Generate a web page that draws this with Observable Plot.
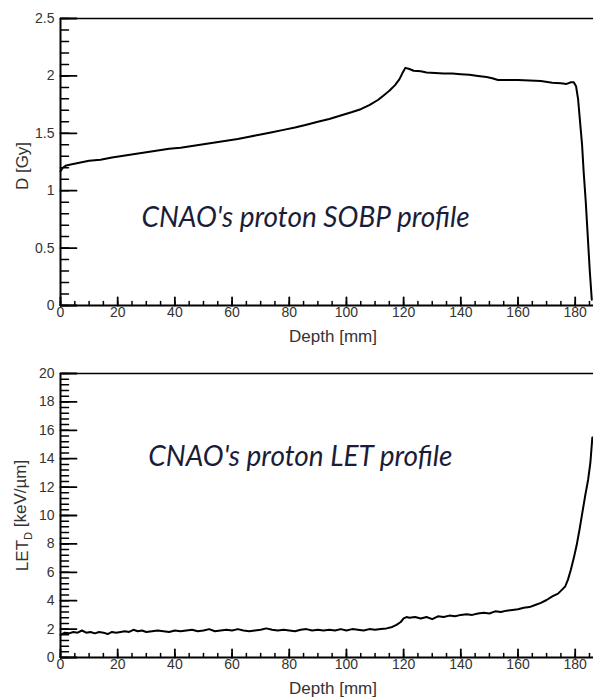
<!DOCTYPE html>
<html><head><meta charset="utf-8">
<script src="https://cdn.jsdelivr.net/npm/d3@7"></script>
<script src="https://cdn.jsdelivr.net/npm/@observablehq/plot@0.6"></script>
<style>
body{margin:0;background:#fff;}
#c{width:593px;}
#c svg{display:block;overflow:visible;}
</style></head><body><div id="c"></div>
<script>
// ---- Data ----
const sobpDepth = [0,0.8,2,4,7,10,14,18,22,26,30,34,38,42,46,50,54,58,62,66,70,74,78,82,86,90,94,98,102,105,108,111,113,115,117,118.5,119.5,120.6,122,123.5,126,128,131,134,137,140,143,146,149,151,153,156,160,164,168,172,175,177,178.5,179.5,180.3,181,181.7,182.4,183,183.7,184.4,185.1,185.8];
const sobpDose  = [1.17,1.2,1.22,1.23,1.245,1.26,1.27,1.29,1.305,1.32,1.335,1.35,1.365,1.375,1.39,1.405,1.42,1.435,1.45,1.47,1.49,1.51,1.53,1.55,1.575,1.6,1.625,1.655,1.685,1.71,1.745,1.79,1.83,1.87,1.92,1.97,2.02,2.07,2.06,2.045,2.04,2.03,2.025,2.02,2.02,2.015,2.01,2.0,1.99,1.98,1.965,1.965,1.965,1.96,1.955,1.94,1.935,1.93,1.945,1.945,1.91,1.8,1.6,1.4,1.15,0.9,0.6,0.3,0.05];

const letDepth = [0,1.5,3,4.5,6,7.5,9,10.5,12,13.5,15,16.5,18,19.5,21,22.5,24,25.5,27,28.5,30,32,34,36,38,40,42,44,46,48,50,52,54,56,58,60,62,64,66,68,70,72,74,76,78,80,82,84,86,88,90,92,94,96,98,100,102,104,106,108,110,112,114,116,117.5,119,120,121,122,124,126,128,130,132,134,136,138,140,142,144,146,148,150,152,154,156,158,160,162,164,166,168,170,172,174,175.5,176.5,177.5,178.5,179.5,180.5,181.5,182.5,183.5,184.5,185.3,186];
const letValue = [1.6,1.75,1.7,1.8,1.75,1.9,1.75,1.8,1.7,1.8,1.75,1.65,1.8,1.75,1.8,1.85,1.8,1.95,1.85,1.9,1.8,1.85,1.9,1.85,1.8,1.9,1.85,1.9,1.95,1.85,1.9,2.0,1.85,1.9,1.95,1.9,2.0,1.9,1.85,1.9,1.95,2.05,1.95,1.9,1.95,1.9,1.85,1.95,2.0,1.9,1.95,1.9,1.95,1.9,2.0,1.9,2.0,1.95,1.9,2.0,1.95,2.0,2.05,2.15,2.3,2.5,2.75,2.85,2.8,2.85,2.75,2.85,2.7,2.9,2.85,2.95,2.9,3.0,3.05,3.0,3.1,3.15,3.1,3.25,3.2,3.3,3.35,3.4,3.5,3.55,3.7,3.85,4.05,4.3,4.5,4.8,5.0,5.5,6.2,7.0,7.9,9.0,10.2,11.4,12.5,13.7,15.5];

const depthTicks = [0,20,40,60,80,100,120,140,160,180];
const depthTickLabels = ["0","20","40","60","80","100","120","140","160","180"];
const depthMinor = d3.range(0, 186, 5);
const doseTicks = [0,0.5,1,1.5,2,2.5];
const doseTickLabels = ["0","0.5","1","1.5","2","2.5"];
const doseMinor = d3.range(0, 2.501, 0.1);
const letTicks = [0,2,4,6,8,10,12,14,16,18,20];
const letTickLabels = ["0","2","4","6","8","10","12","14","16","18","20"];
const letMinor = d3.range(0, 20.01, 0.4);

const xLabel = "Depth [mm]";
const doseLabel = "D [Gy]";
const letLabel = "LET_D [keV/µm]";
const sobpNote = "CNAO's proton SOBP profile";
const letNote = "CNAO's proton LET profile";

const sobp = sobpDepth.map((d,i)=>({depth:d, dose:sobpDose[i]}));
const letData = letDepth.map((d,i)=>({depth:d, let:letValue[i]}));

const tickUp = {draw(ctx, l){ ctx.moveTo(0,0); ctx.lineTo(0,-l); }};
const fontBase = "'Liberation Sans', Arial, sans-serif";
const noteFont = "Lato, 'Open Sans', sans-serif";

function panel({height, marginTop, marginBottom, yMax, yTicks, yTickLabels, yMinor, data, yKey, yLabel, yLabelDy, note, noteX, noteY}) {
  return Plot.plot({
    width: 593, height, marginTop, marginBottom, marginLeft: 60, marginRight: 0,
    style: {fontFamily: fontBase, fontSize: "14px", color: "#333", background: "#fff", overflow: "visible"},
    x: {domain: [0, 186.4], axis: null},
    y: {domain: [0, yMax], axis: null},
    marks: [
      Plot.ruleY([yMax], {stroke: "#000", strokeWidth: 1.6}),
      Plot.ruleY([0], {stroke: "#000", strokeWidth: 2}),
      Plot.ruleX([0], {stroke: "#000", strokeWidth: 2}),
      Plot.vector(yMinor, {x: () => 0, y: d => d, length: 8, rotate: 90, anchor: "start", shape: tickUp, stroke: "#000", strokeWidth: 1.5}),
      Plot.vector(yTicks, {x: () => 0, y: d => d, length: 16, rotate: 90, anchor: "start", shape: tickUp, stroke: "#000", strokeWidth: 1.8}),
      Plot.vector(depthMinor, {x: d => d, y: () => 0, length: 4, rotate: 0, anchor: "start", shape: tickUp, stroke: "#000", strokeWidth: 1.5}),
      Plot.vector(depthTicks, {x: d => d, y: () => 0, length: 8, rotate: 0, anchor: "start", shape: tickUp, stroke: "#000", strokeWidth: 1.8}),
      Plot.axisY(yTicks, {tickSize: 0, tickPadding: 6, tickFormat: d => yTickLabels[yTicks.indexOf(d)], label: null, fontSize: 14, fill: "#333"}),
      Plot.axisX(depthTicks, {tickSize: 0, tickPadding: 2, tickFormat: d => depthTickLabels[depthTicks.indexOf(d)], label: null, fontSize: 14, fill: "#333"}),
      Plot.text([xLabel], {frameAnchor: "bottom", textAnchor: "middle", dx: 6, dy: 36, fontSize: 17, fill: "#333"}),
      Plot.text([yLabel], {frameAnchor: "left", textAnchor: "middle", dx: -38, dy: yLabelDy, rotate: -90, fontSize: 17, fill: "#333", className: "ylab"}),
      Plot.line(data, {x: "depth", y: yKey, stroke: "#000", strokeWidth: 2, clip: false}),
      Plot.text([note], {x: () => noteX, y: () => noteY, fontSize: 28, fontStyle: "italic", fill: "#1b1d38", fontFamily: noteFont})
    ]
  });
}

const topPanel = panel({height: 350, marginTop: 18, marginBottom: 45, yMax: 2.5, yTicks: doseTicks, yTickLabels: doseTickLabels, yMinor: doseMinor, data: sobp, yKey: "dose", yLabel: doseLabel, yLabelDy: 4, note: sobpNote, noteX: 85.7, noteY: 0.76});
const bottomPanel = panel({height: 349, marginTop: 23, marginBottom: 42, yMax: 20, yTicks: letTicks, yTickLabels: letTickLabels, yMinor: letMinor, data: letData, yKey: "let", yLabel: letLabel, yLabelDy: 0, note: letNote, noteX: 83.9, noteY: 14.15});

const c = document.getElementById("c");
c.appendChild(topPanel);
c.appendChild(bottomPanel);

// subscript for LET_D
d3.select(bottomPanel).selectAll(".ylab text").each(function(){
  const t = d3.select(this);
  t.text("");
  t.append("tspan").text("LET");
  t.append("tspan").attr("font-size", 11).attr("dy", "0.35em").text("D");
  t.append("tspan").attr("dy", "-0.35em").text(" [keV/µm]");
});
</script>
</body></html>
